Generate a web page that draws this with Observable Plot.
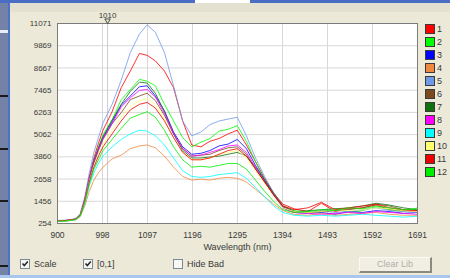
<!DOCTYPE html>
<html>
<head>
<meta charset="utf-8">
<script src="https://cdn.jsdelivr.net/npm/d3@7"></script>
<script src="https://cdn.jsdelivr.net/npm/@observablehq/plot@0.6"></script>
<style>
  html, body { margin: 0; padding: 0; }
  body { width: 450px; height: 278px; overflow: hidden; position: relative; background: #ECE9D8; font-family: "Liberation Sans", Arial, sans-serif; }
  #chart { position: absolute; left: 0; top: 0; }
  .abs { position: absolute; }
  .sw { position: absolute; width: 8px; height: 8px; border: 1px solid #3a3a3a; }
  .lg { position: absolute; font-size: 9px; color: #3a3a3a; line-height: 10px; }
  .cb { position: absolute; width: 8px; height: 8px; border: 1px solid #7a8a9a; background: #f6f6f2; }
  .cbt { position: absolute; font-size: 9px; color: #3a3a3a; line-height: 10px; }
</style>
</head>
<body>
<div class="abs" style="left:0;top:0;width:8px;height:278px;background:#7382a6"></div>
<div class="abs" style="left:0;top:30px;width:8px;height:3px;background:#e8ecf4"></div>
<div class="abs" style="left:0;top:95px;width:8px;height:2px;background:#1a1a1a"></div>
<div class="abs" style="left:0;top:148px;width:8px;height:2px;background:#1a1a1a"></div>
<div class="abs" style="left:0;top:200px;width:8px;height:2px;background:#1a1a1a"></div>
<div class="abs" style="left:0;top:265px;width:8px;height:2px;background:#1a1a1a"></div>
<div class="abs" style="left:8px;top:0;width:2px;height:278px;background:#4a72c8"></div>
<div class="abs" style="left:0;top:0;width:450px;height:3px;background:#4a6ec4"></div>
<div class="abs" style="left:195px;top:0;width:55px;height:3px;background:#ffffff"></div>
<div class="abs" style="left:10px;top:3px;width:440px;height:9px;background:#e4e1d0"></div>
<div class="abs" style="left:0;top:275px;width:450px;height:3px;background:#a9c6ee"></div>
<div id="chart"></div>
<script>
// ---- data ----
const wavelengths = [900,920,940,950,960,970,980,990,1000,1020,1040,1060,1080,1097,1115,1135,1155,1175,1195,1215,1235,1255,1275,1295,1315,1335,1355,1375,1395,1420,1450,1480,1510,1540,1570,1600,1630,1660,1691];
const s01 = [400,420,500,750,1600,2800,3800,4600,5300,6300,7600,8500,9450,9350,9050,8500,7600,5800,4500,4400,4700,4850,5100,5300,4500,3600,2700,1900,1300,1050,900,1350,900,1050,1100,1250,1000,950,900];
const s02 = [380,400,480,700,1500,2700,3700,4400,5050,5850,6950,7500,8050,7950,7700,6700,5800,4900,4400,4650,4850,5250,5350,5550,4700,3600,2600,1800,1200,950,850,900,1050,850,950,1150,1000,900,1100];
const s03 = [390,410,470,680,1450,2600,3600,4300,4900,5750,6650,7150,7650,7700,7150,6350,5200,4400,4000,4050,4200,4450,4550,4800,4300,3400,2600,1800,1100,850,800,850,750,900,850,950,900,800,850];
const s04 = [370,390,450,620,1200,2000,2600,3000,3300,3750,3950,4300,4450,4500,4350,3900,3300,2800,2600,2650,2600,2700,2750,2700,2500,2100,1700,1300,950,750,700,800,700,750,800,850,750,700,700];
const s05 = [420,440,520,800,1700,3000,4100,4900,5700,6700,8000,9500,10500,11000,10600,9500,7700,5800,5000,5200,5600,5800,5900,6000,5000,3800,2800,1900,1200,900,800,950,850,900,1000,1100,950,900,850];
const s06 = [400,420,490,700,1500,2600,3500,4200,4800,5650,6250,6950,7150,7300,6900,6100,5100,4300,3900,3950,4000,4200,4350,4400,4000,3200,2500,1800,1150,900,850,900,950,1000,1100,1300,1200,1000,950];
const s07 = [390,410,480,690,1500,2700,3650,4350,4950,5850,6700,7400,7900,7850,7300,6300,5100,4200,3800,3800,3850,3900,4000,4100,3900,3300,2600,1900,1200,900,950,1000,1050,1100,1200,1350,1250,1100,1000];
const s08 = [400,420,490,700,1550,2750,3650,4300,4850,5650,6550,7050,7450,7500,7100,6200,5100,4300,3900,3950,4100,4250,4450,4500,4100,3300,2500,1800,1100,850,800,750,800,850,800,900,850,800,750];
const s09 = [380,400,460,650,1300,2300,3000,3500,3900,4400,4800,5100,5300,5250,5000,4500,3800,3100,2800,2750,2800,2900,2950,3000,2700,2200,1700,1200,850,700,650,700,650,700,750,700,650,600,650];
const s10 = [390,410,480,690,1450,2550,3400,4000,4500,5300,6000,6600,6900,7000,6700,5900,4900,4100,3700,3700,3800,4000,4100,4200,3800,3100,2400,1700,1100,900,850,900,1000,950,1000,1100,1050,950,900];
const s11 = [400,420,490,700,1450,2500,3300,3900,4400,5100,5800,6400,6700,6800,6500,5800,4900,4100,3700,3700,3800,4000,4200,4300,3900,3200,2500,1800,1200,1000,1100,1400,1000,1100,1200,1300,1100,1000,950];
const s12 = [380,400,470,670,1400,2400,3200,3700,4200,4800,5400,5950,6150,6300,6000,5300,4400,3700,3300,3350,3300,3400,3500,3500,3200,2600,2000,1450,1000,850,900,1000,950,1100,1050,1200,1100,1000,1050];
const seriesNames = ["1","2","3","4","5","6","7","8","9","10","11","12"];
const seriesColors = ["#ff0000","#00ff00","#0000ff","#f08840","#7098e8","#7a4a1e","#107010","#ff00ff","#00ffff","#ffff70","#ee0000","#00ee00"];
const xTickValues = [900,998.875,1097.75,1196.625,1295.5,1394.375,1493.25,1592.125,1691];
const xTickLabels = ["900","998","1097","1196","1295","1394","1493","1592","1691"];
const yTickValues = [254,1455.889,2657.778,3859.667,5061.556,6263.444,7465.333,8667.222,9869.111,11071];
const yTickLabels = ["254","1456","2658","3860","5062","6263","7465","8667","9869","11071"];
const markerWavelength = [1010];
const xLabel = "Wavelength (nm)";

// ---- build ----
const allSeries = [s01,s02,s03,s04,s05,s06,s07,s08,s09,s10,s11,s12];
const rows = [];
allSeries.forEach((arr, i) => arr.forEach((v, j) => rows.push({w: wavelengths[j], v, s: seriesNames[i]})));
const xLab = new Map(xTickValues.map((d, i) => [d, xTickLabels[i]]));
const yLab = new Map(yTickValues.map((d, i) => [d, yTickLabels[i]]));

const chart = Plot.plot({
  width: 450, height: 278,
  marginLeft: 57, marginRight: 33, marginTop: 23, marginBottom: 55,
  style: {background: "transparent", fontFamily: "'Liberation Sans', Arial, sans-serif", color: "#3a3a3a", overflow: "visible"},
  x: {domain: [900, 1691]},
  y: {domain: [254, 11071]},
  color: {domain: seriesNames, range: seriesColors},
  marks: [
    Plot.frame({fill: "white", stroke: "none"}),
    Plot.gridX(xTickValues, {stroke: "#d8d8d8", strokeOpacity: 1}),
    Plot.gridY(yTickValues, {stroke: "#d8d8d8", strokeOpacity: 1}),
    Plot.ruleX(markerWavelength, {stroke: "#c8ccd4"}),
    Plot.line(rows, {x: "w", y: "v", z: "s", stroke: "s", strokeWidth: 1, strokeOpacity: 0.8}),
    Plot.frame({stroke: "#7c7c7c"}),
    Plot.axisX(xTickValues, {tickSize: 0, tickPadding: 8, fontSize: 8.5, tickFormat: d => xLab.get(d), label: null}),
    Plot.axisY(yTickValues, {tickSize: 0, tickPadding: 6, fontSize: 8, tickFormat: d => yLab.get(d), label: null}),
    Plot.text([xLabel], {frameAnchor: "bottom", dy: 26, fontSize: 9, fill: "#3a3a3a"}),
    Plot.text(markerWavelength, {x: d => d, frameAnchor: "top", dy: -11, text: d => String(d), fontSize: 8, fill: "#3a3a3a"}),
    Plot.dot(markerWavelength, {x: d => d, y: () => 11071, dy: -3, symbol: "triangle", rotate: 180, r: 2, fill: "none", stroke: "#3a3a3a", strokeWidth: 0.9})
  ]
});
document.getElementById("chart").appendChild(chart);

// legend
seriesNames.forEach((n, i) => {
  const sw = document.createElement("div");
  sw.className = "sw";
  sw.style.left = "425px";
  sw.style.top = (24 + 13 * i) + "px";
  sw.style.background = seriesColors[i];
  document.body.appendChild(sw);
  const lg = document.createElement("div");
  lg.className = "lg";
  lg.style.left = "437px";
  lg.style.top = (24 + 13 * i) + "px";
  lg.textContent = n;
  document.body.appendChild(lg);
});

// controls
const controls = [
  {label: "Scale", x: 20, checked: true},
  {label: "[0,1]", x: 83, checked: true},
  {label: "Hide Bad", x: 173, checked: false}
];
controls.forEach(c => {
  const b = document.createElement("div");
  b.className = "cb";
  b.style.left = c.x + "px";
  b.style.top = "259px";
  if (c.checked) b.innerHTML = '<svg width="8" height="8" style="position:absolute;left:0;top:0"><path d="M1.5 3.5 L3.3 5.5 L6.8 1.5" stroke="#2a2a2a" stroke-width="1.6" fill="none"/></svg>';
  document.body.appendChild(b);
  const t = document.createElement("div");
  t.className = "cbt";
  t.style.left = (c.x + 14) + "px";
  t.style.top = "259px";
  t.textContent = c.label;
  document.body.appendChild(t);
});
const btn = document.createElement("div");
btn.className = "abs";
btn.style.cssText = "left:359px;top:257px;width:70px;height:13px;background:#f1efe4;border-top:1px solid #fbfaf5;border-left:1px solid #fbfaf5;border-right:2px solid #8a8a80;border-bottom:2px solid #8a8a80;font-size:9px;color:#b0b0a8;text-align:center;line-height:13px;";
btn.textContent = "Clear Lib";
document.body.appendChild(btn);
</script>
</body>
</html>
